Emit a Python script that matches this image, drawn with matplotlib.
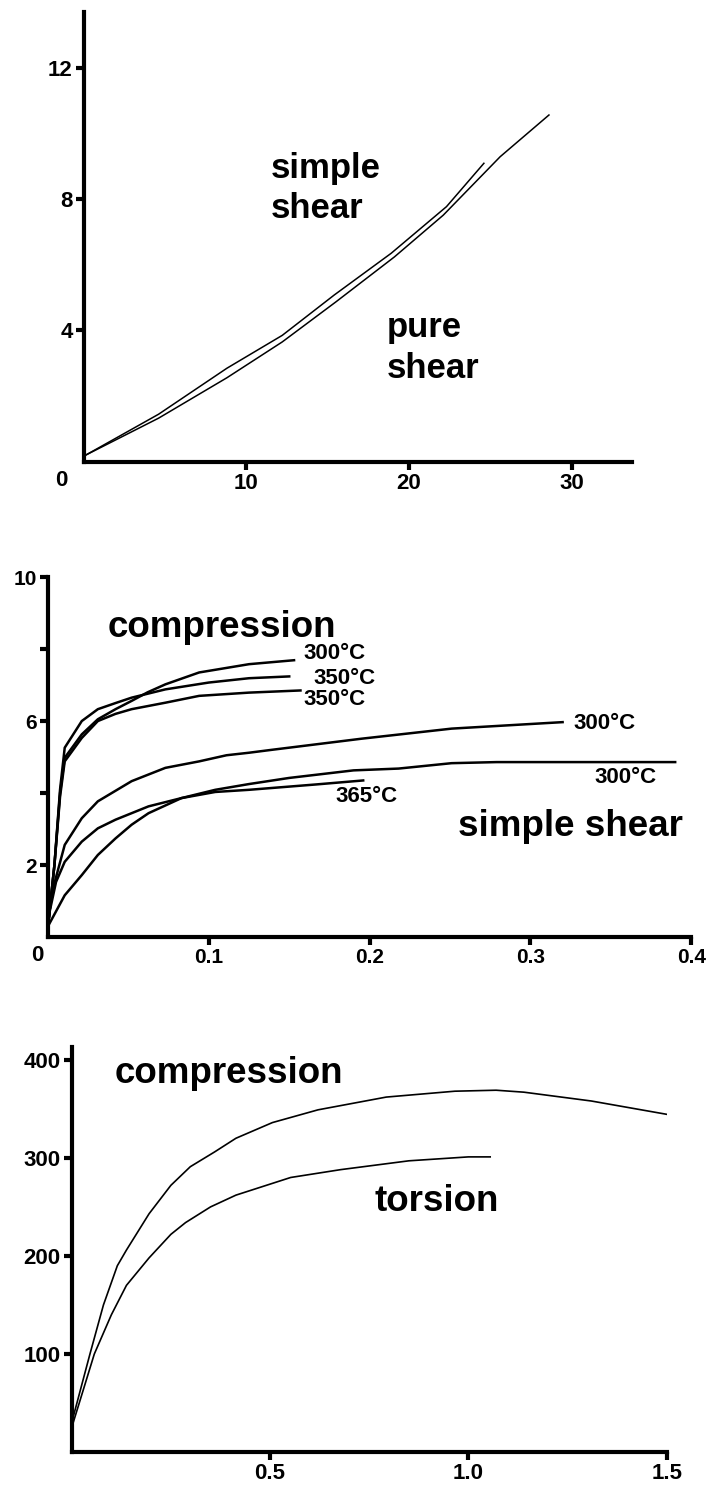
import matplotlib
matplotlib.use("Agg")
import matplotlib.pyplot as plt

plt.rcParams['font.family'] = ['Liberation Sans', 'DejaVu Sans']
plt.rcParams['font.weight'] = 'bold'

# panel 1: simple vs pure shear
simple_x = [0.1, 4.6, 8.8, 12.2, 15.4, 18.9, 22.3, 24.6]
simple_y = [0.2, 1.45, 2.85, 3.85, 5.08, 6.35, 7.77, 9.09]
pure_x = [0.1, 4.6, 8.8, 12.2, 15.5, 19.1, 22.1, 25.6, 28.6]
pure_y = [0.2, 1.33, 2.56, 3.65, 4.87, 6.24, 7.51, 9.29, 10.56]

# panel 2: compression and simple shear curves
comp300_x = [0.0, 0.004, 0.0075, 0.0104, 0.021, 0.031, 0.042, 0.052, 0.062, 0.073, 0.094, 0.125, 0.153]
comp300_y = [0.3, 2.0, 4.0, 4.98, 5.63, 6.05, 6.33, 6.56, 6.8, 7.02, 7.35, 7.58, 7.69]
comp350a_x = [0.0, 0.004, 0.0075, 0.0104, 0.021, 0.031, 0.042, 0.052, 0.073, 0.1, 0.125, 0.150]
comp350a_y = [0.3, 2.0, 4.1, 5.26, 6.0, 6.33, 6.5, 6.65, 6.88, 7.07, 7.19, 7.24]
comp350b_x = [0.0, 0.004, 0.0075, 0.0104, 0.021, 0.031, 0.042, 0.052, 0.073, 0.094, 0.125, 0.157]
comp350b_y = [0.3, 2.0, 3.9, 4.88, 5.53, 6.0, 6.2, 6.33, 6.51, 6.7, 6.79, 6.85]
shear300a_x = [0.0, 0.002, 0.0104, 0.021, 0.031, 0.052, 0.073, 0.094, 0.111, 0.125, 0.139, 0.195, 0.251, 0.320]
shear300a_y = [0.3, 1.16, 2.56, 3.3, 3.77, 4.33, 4.7, 4.88, 5.05, 5.12, 5.2, 5.51, 5.79, 5.97]
shear365_x = [0.0, 0.001, 0.005, 0.0104, 0.021, 0.031, 0.042, 0.0625, 0.083, 0.104, 0.125, 0.167, 0.196]
shear365_y = [0.3, 0.7, 1.53, 2.09, 2.65, 3.02, 3.26, 3.63, 3.86, 4.03, 4.09, 4.24, 4.35]
shear300b_x = [0.0, 0.0104, 0.021, 0.031, 0.042, 0.052, 0.0625, 0.083, 0.104, 0.125, 0.150, 0.190, 0.218, 0.251, 0.279, 0.390]
shear300b_y = [0.3, 1.16, 1.72, 2.28, 2.74, 3.12, 3.44, 3.86, 4.09, 4.25, 4.42, 4.63, 4.68, 4.83, 4.86, 4.86]

# panel 3: compression vs torsion
comp_x = [0.0, 0.046, 0.08, 0.115, 0.138, 0.195, 0.25, 0.299, 0.36, 0.414, 0.506, 0.621, 0.793, 0.966, 1.07, 1.14, 1.31, 1.506]
comp_y = [30, 100, 150, 190, 206, 243, 272, 291, 306, 320, 336, 349, 362, 368, 369, 367, 358, 344]
tors_x = [0.0, 0.057, 0.1, 0.138, 0.195, 0.25, 0.287, 0.35, 0.414, 0.552, 0.678, 0.85, 1.0, 1.055]
tors_y = [25, 100, 140, 170, 198, 222, 234, 250, 262, 280, 288, 297, 301, 301]

fig = plt.figure(figsize=(7.1, 14.85), dpi=100)


def style(ax):
    for s in ['top', 'right']:
        ax.spines[s].set_visible(False)
    for s in ['left', 'bottom']:
        ax.spines[s].set_linewidth(3)
    ax.tick_params(direction='out', length=6, width=3, labelsize=16, pad=2)
    for lab in ax.get_xticklabels() + ax.get_yticklabels():
        lab.set_fontweight('bold')


# ---- panel 1
ax1 = fig.add_axes([0.118, 0.689, 0.772, 0.303])
ax1.plot(simple_x, simple_y, color='black', lw=1.1)
ax1.plot(pure_x, pure_y, color='black', lw=1.1)
ax1.set_xlim(0, 33.7)
ax1.set_ylim(0, 13.7)
ax1.set_xticks([10, 20, 30])
ax1.set_yticks([4, 8, 12])
style(ax1)
ax1.annotate('0', xy=(0, 0), xytext=(-12, -6), textcoords='offset points',
             ha='right', va='top', fontsize=16, fontweight='bold')
ax1.text(11.5, 8.93, 'simple', fontsize=25, fontweight='bold', va='center')
ax1.text(11.5, 7.7, 'shear', fontsize=25, fontweight='bold', va='center')
ax1.text(18.6, 4.1, 'pure', fontsize=25, fontweight='bold', va='center')
ax1.text(18.6, 2.84, 'shear', fontsize=25, fontweight='bold', va='center')

# ---- panel 2
ax2 = fig.add_axes([0.0676, 0.369, 0.906, 0.2424])
for xs, ys in [(comp300_x, comp300_y), (comp350a_x, comp350a_y), (comp350b_x, comp350b_y),
               (shear300a_x, shear300a_y), (shear365_x, shear365_y), (shear300b_x, shear300b_y)]:
    ax2.plot(xs, ys, color='black', lw=1.8)
ax2.set_xlim(0, 0.4)
ax2.set_ylim(0, 10)
ax2.set_xticks([0.1, 0.2, 0.3, 0.4])
ax2.set_xticklabels(['0.1', '0.2', '0.3', '0.4'])
ax2.set_yticks([2, 4, 6, 8, 10])
ax2.set_yticklabels(['2', '', '6', '', '10'])
style(ax2)
ax2.tick_params(labelsize=15)
ax2.annotate('0', xy=(0, 0), xytext=(-3, -6), textcoords='offset points',
             ha='right', va='top', fontsize=16, fontweight='bold')
ax2.text(0.037, 8.6, 'compression', fontsize=26.5, fontweight='bold', va='center')
ax2.text(0.255, 3.06, 'simple shear', fontsize=26.5, fontweight='bold', va='center')
temp_labels = [(0.159, 7.89, '300°C'), (0.165, 7.18, '350°C'), (0.159, 6.59, '350°C'),
               (0.327, 5.94, '300°C'), (0.340, 4.43, '300°C'), (0.179, 3.9, '365°C')]
for tx, ty, t in temp_labels:
    ax2.text(tx, ty, t, fontsize=16, fontweight='bold', va='center')

# ---- panel 3
ax3 = fig.add_axes([0.101, 0.0222, 0.838, 0.2727])
ax3.plot(comp_x, comp_y, color='black', lw=1.2)
ax3.plot(tors_x, tors_y, color='black', lw=1.2)
ax3.set_xlim(0, 1.5)
ax3.set_ylim(0, 413)
ax3.set_xticks([0.5, 1.0, 1.5])
ax3.set_xticklabels(['0.5', '1.0', '1.5'])
ax3.set_yticks([100, 200, 300, 400])
style(ax3)
ax3.text(0.109, 386, 'compression', fontsize=26.5, fontweight='bold', va='center')
ax3.text(0.764, 256, 'torsion', fontsize=26.5, fontweight='bold', va='center')

fig.savefig('out.png', dpi=100)
